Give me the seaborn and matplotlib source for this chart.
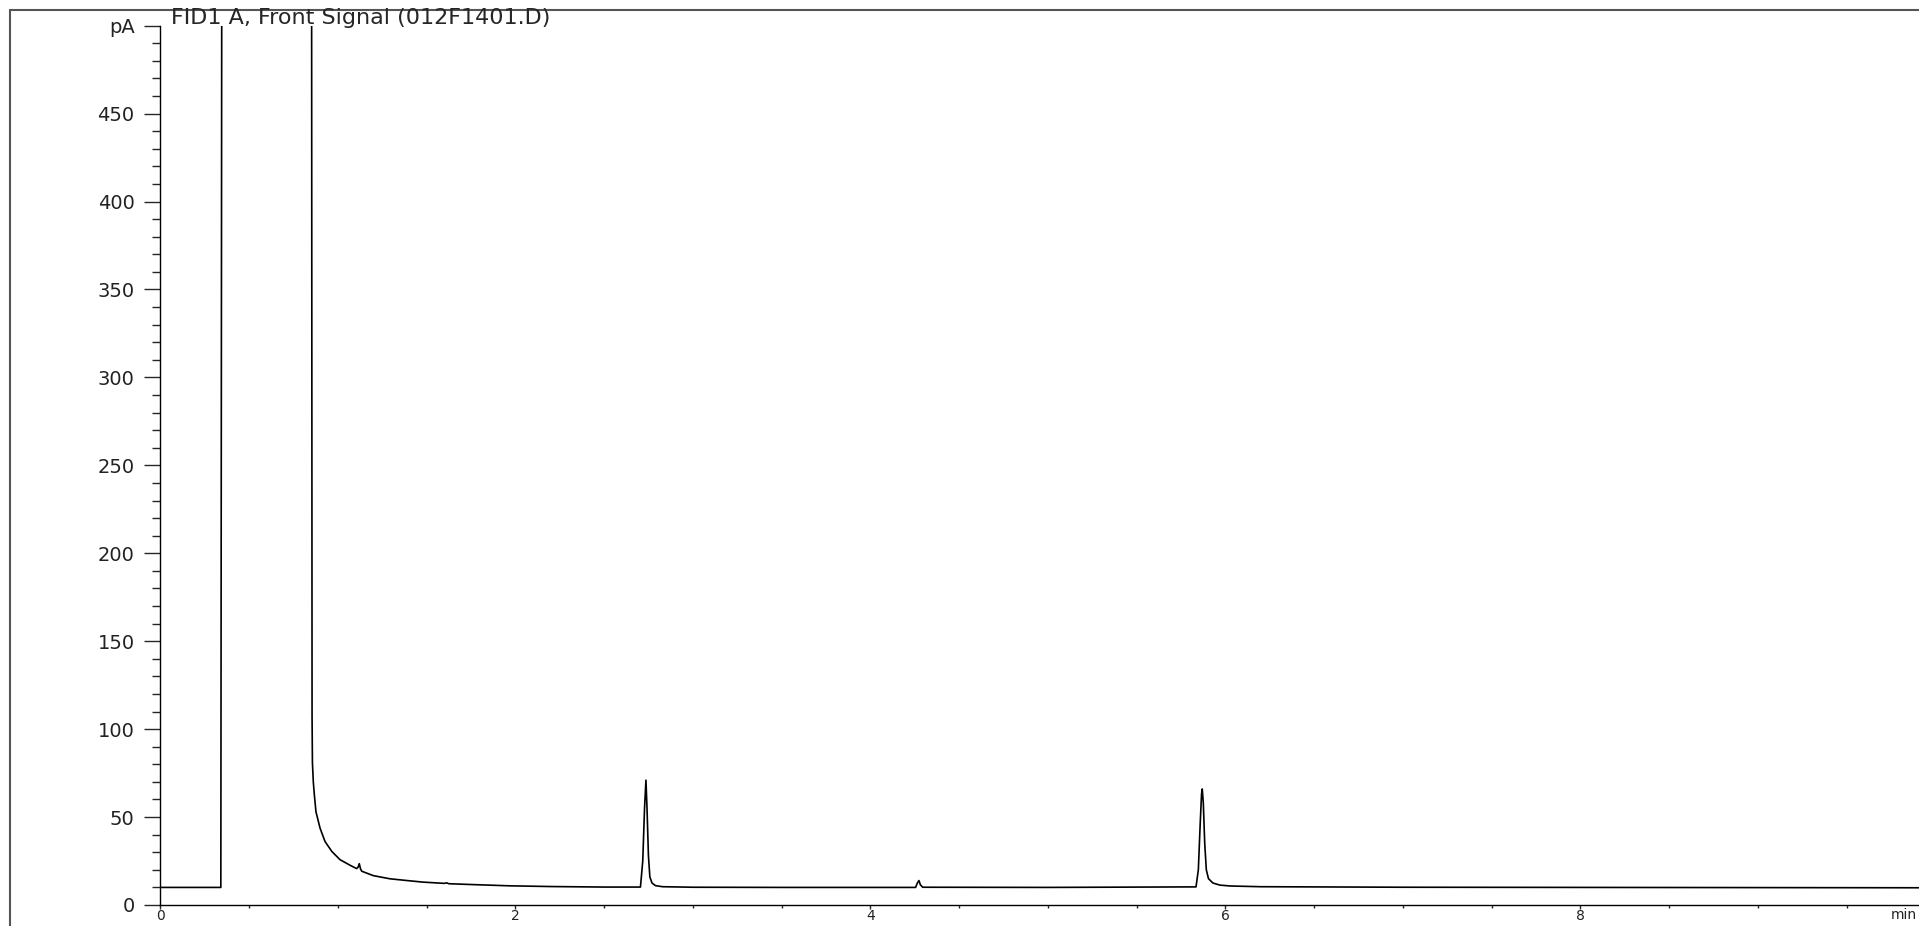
import seaborn as sns
import pandas as pd
import matplotlib.pyplot as plt
from matplotlib.lines import Line2D
from matplotlib.ticker import FixedLocator

# chromatogram (min, pA); values above 500 are off-scale
time_min = [0.000, 0.341, 0.347, 0.852, 0.855, 0.857, 0.862, 0.868, 0.877,
            0.900, 0.928, 0.966, 1.012, 1.069, 1.106, 1.114, 1.121, 1.128,
            1.135, 1.200, 1.294, 1.400, 1.482, 1.600, 1.614, 1.625, 1.763,
            1.970, 2.200, 2.500, 2.705, 2.718, 2.728, 2.736, 2.742, 2.750,
            2.758, 2.770, 2.790, 2.830, 3.000, 3.500, 4.255, 4.265, 4.274,
            4.282, 4.295, 5.000, 5.835, 5.848, 5.858, 5.866, 5.870, 5.876,
            5.884, 5.893, 5.905, 5.930, 5.970, 6.030, 6.200, 7.000, 8.000,
            9.000, 9.910]
signal_pa = [10.0, 10.0, 600.0, 600.0, 107.0, 81.0, 70.0, 62.5, 53.0,
             43.7, 36.1, 30.5, 25.8, 22.6, 20.7, 21.5, 23.5, 20.5,
             19.2, 16.7, 14.9, 13.8, 13.0, 12.3, 12.6, 12.1, 11.6,
             10.9, 10.5, 10.2, 10.2, 25.0, 55.0, 71.0, 55.0, 28.0,
             16.0, 12.5, 11.0, 10.4, 10.1, 10.0, 10.0, 12.5, 13.9,
             11.5, 10.1, 10.0, 10.3, 20.0, 45.0, 63.0, 66.0, 58.0,
             35.0, 20.0, 15.0, 12.5, 11.3, 10.8, 10.4, 10.1, 10.0,
             9.9, 9.8]

title_text = "FID1 A, Front Signal (012F1401.D)"
y_ticks = [0, 50, 100, 150, 200, 250, 300, 350, 400, 450, 500]
y_labels = ["0", "50", "100", "150", "200", "250", "300", "350", "400", "450", "pA"]
x_ticks = [0, 2, 4, 6, 8]
x_minor = [0.5, 1, 1.5, 2.5, 3, 3.5, 4.5, 5, 5.5, 6.5, 7, 7.5, 8.5, 9, 9.5]

data = pd.DataFrame({"time": time_min, "signal": signal_pa})

sns.set_style("white")
plt.rcParams["font.family"] = ["DejaVu Sans"]

W, H = 1919, 926
fig = plt.figure(figsize=(W / 100, H / 100), dpi=100)
# axes box in pixels: left 160, right = figure edge, top 26, bottom 905
ax = fig.add_axes([160.3 / W, (H - 905) / H, 1 - 160.3 / W, (905 - 25.7) / H])

sns.lineplot(data=data, x="time", y="signal", ax=ax, color="black",
             linewidth=1.2, estimator=None, sort=False)

ax.set_xlim(0, 9.908)
ax.set_ylim(0, 500)
ax.set_xlabel("")
ax.set_ylabel("")

ax.set_yticks(y_ticks)
ax.set_yticklabels(y_labels)
ax.yaxis.set_minor_locator(FixedLocator(range(0, 501, 10)))
ax.set_xticks(x_ticks)
ax.set_xticklabels([str(t) for t in x_ticks])
ax.xaxis.set_minor_locator(FixedLocator(x_minor))

ax.tick_params(axis="y", which="major", direction="out", length=11.5,
               width=1, pad=7, labelsize=14, labelcolor="#222222", left=True)
ax.tick_params(axis="y", which="minor", direction="out", length=5.5,
               width=1, left=True)
ax.tick_params(axis="x", which="major", direction="out", length=3,
               width=1, pad=0, labelsize=10, labelcolor="#222222", bottom=True)
ax.tick_params(axis="x", which="minor", direction="out", length=1.8,
               width=1, bottom=True)

for side in ["top", "right"]:
    ax.spines[side].set_visible(False)
for side in ["left", "bottom"]:
    ax.spines[side].set_color("black")
    ax.spines[side].set_linewidth(1.0)

# outer frame of the printout (only top and left edges are in view)
fig.add_artist(Line2D([9.5 / W, 1.0], [(H - 10) / H, (H - 10) / H], color="#555555",
                      linewidth=1.5, transform=fig.transFigure))
fig.add_artist(Line2D([9.5 / W, 9.5 / W], [0.0, (H - 10) / H], color="#555555",
                      linewidth=1.5, transform=fig.transFigure))

fig.text(171 / W, (H - 17.5) / H, title_text, fontsize=16, ha="left", va="center")
fig.text(1917 / W, (H - 908) / H, "min", fontsize=10, ha="right", va="top",
         color="#222222")

fig.savefig("out.png", dpi=100)
